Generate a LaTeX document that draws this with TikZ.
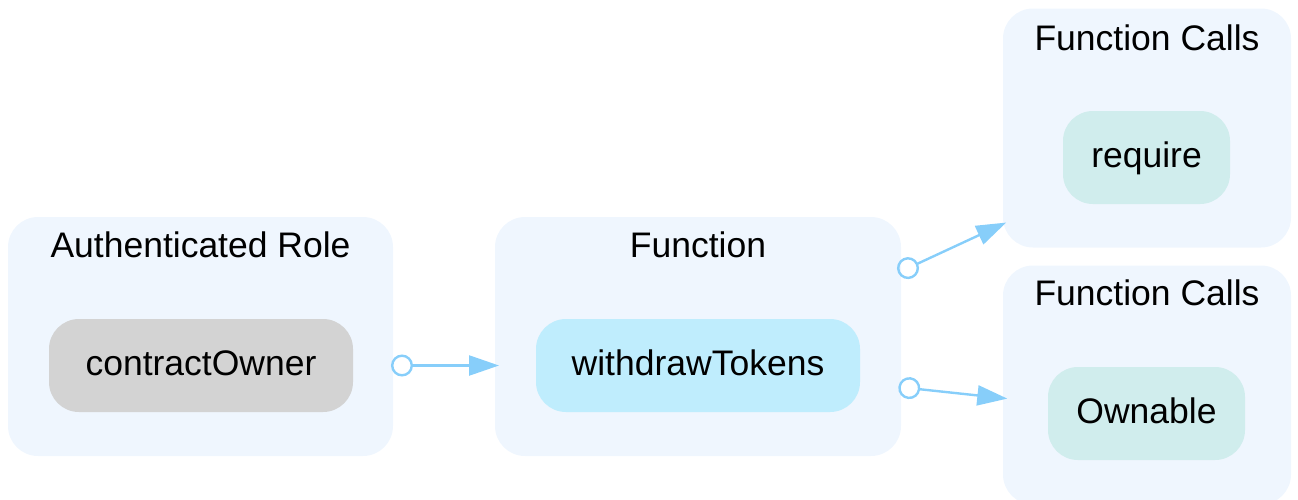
\documentclass[tikz,border=0pt]{standalone}
\usepackage{fontspec}
\setmainfont{Liberation Sans}
\usepackage{tikz}
\usetikzlibrary{arrows.meta,positioning}
\definecolor{grpbg}{RGB}{239,246,254}
\definecolor{edgeblue}{RGB}{135,206,250}
\definecolor{rolegray}{RGB}{211,211,211}
\definecolor{funcblue}{RGB}{191,237,253}
\definecolor{callteal}{RGB}{208,237,237}

\begin{document}
\begin{tikzpicture}[
  x=1pt,y=-1pt,
  font=\fontsize{35.5}{42}\selectfont,
  grp/.style={rounded corners=30pt,fill=grpbg,inner sep=0pt,minimum height=239pt},
  grplbl/.style={anchor=base,inner sep=0pt},
  nd/.style={rounded corners=30pt,inner sep=0pt,minimum height=93pt,
             text height=26pt,text depth=7pt},
  rolend/.style={nd,fill=rolegray},
  funcnd/.style={nd,fill=funcblue},
  callnd/.style={nd,fill=callteal},
  edge/.style={draw=edgeblue,line width=2.4pt,
               {Circle[open,length=22pt]}-{Triangle[length=30pt,width=20pt]}},
  ]
  \useasboundingbox (0,0) rectangle (1298,499);
  \node[grp,minimum width=385pt] (role)   at (200.5,336.5) {};
  \node[grp,minimum width=406pt] (func)   at (698,336.5)   {};
  \node[grp,minimum width=288pt] (calls1) at (1147,128)    {};
  \node[grp,minimum width=288pt] (calls2) at (1147,385)    {};
  \node[grplbl] (rolelbl)   at (200.5,257) {Authenticated Role};
  \node[grplbl] (funclbl)   at (698,257)   {Function};
  \node[grplbl] (calls1lbl) at (1147,50)   {Function Calls};
  \node[grplbl] (calls2lbl) at (1147,305)  {Function Calls};
  \node[rolend,minimum width=304pt] (owner) at (201,365.5)    {contractOwner};
  \node[funcnd,minimum width=324pt] (wdraw) at (698,365.5)    {withdrawTokens};
  \node[callnd,minimum width=167pt] (req)   at (1146.5,157.5) {require};
  \node[callnd,minimum width=197pt] (own)   at (1146.5,413.5) {Ownable};
  \draw[edge,shorten <=190pt,shorten >=199pt] (owner.center) -- (wdraw.center);
  \draw[edge,shorten <=220.5pt,shorten >=154.6pt] (wdraw.center) -- (req.center);
  \draw[edge,shorten <=201.5pt,shorten >=140pt] (wdraw.center) -- (own.center);
\end{tikzpicture}
\end{document}
